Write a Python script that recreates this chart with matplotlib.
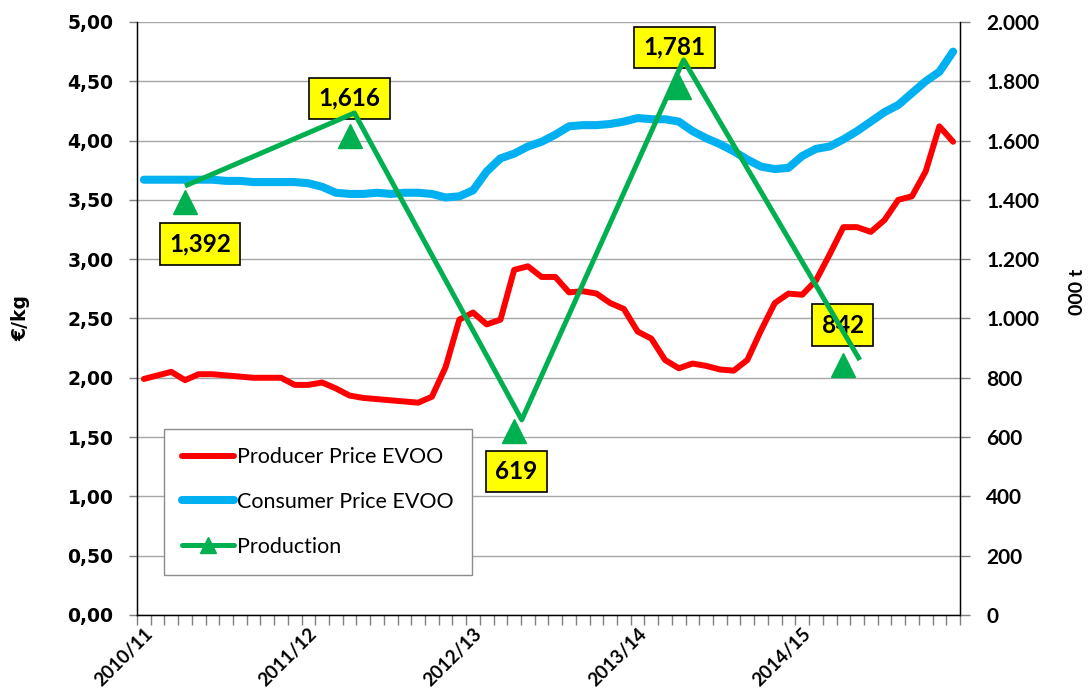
import numpy as np
import matplotlib
matplotlib.use("Agg")
import matplotlib.pyplot as plt
from matplotlib.lines import Line2D
from matplotlib.ticker import FuncFormatter, MultipleLocator

# =========================
# Data
# =========================
season_labels = ["2010/11", "2011/12", "2012/13", "2013/14", "2014/15"]
season_start = [0, 12, 24, 36, 48]          # month index where each season starts
n_months = 60

producer_price = [
    1.99, 2.02, 2.05, 1.98, 2.03, 2.03, 2.02, 2.01, 2.00, 2.00,
    2.00, 1.94, 1.94, 1.96, 1.91, 1.85, 1.83, 1.82, 1.81, 1.80,
    1.79, 1.84, 2.09, 2.49, 2.55, 2.45, 2.49, 2.91, 2.94, 2.85,
    2.85, 2.72, 2.73, 2.71, 2.63, 2.58, 2.39, 2.33, 2.15, 2.08,
    2.12, 2.10, 2.07, 2.06, 2.15, 2.40, 2.63, 2.71, 2.70, 2.82,
    3.04, 3.27, 3.27, 3.23, 3.33, 3.50, 3.53, 3.74, 4.12, 3.99,
]

consumer_price = [
    3.67, 3.67, 3.67, 3.67, 3.67, 3.67, 3.66, 3.66, 3.65, 3.65,
    3.65, 3.65, 3.64, 3.61, 3.56, 3.55, 3.55, 3.56, 3.55, 3.56,
    3.56, 3.55, 3.52, 3.53, 3.58, 3.74, 3.85, 3.89, 3.95, 3.99,
    4.05, 4.12, 4.13, 4.13, 4.14, 4.16, 4.19, 4.18, 4.18, 4.16,
    4.08, 4.02, 3.97, 3.91, 3.84, 3.78, 3.76, 3.77, 3.87, 3.93,
    3.95, 4.01, 4.08, 4.16, 4.24, 4.30, 4.40, 4.50, 4.58, 4.75,
]

# production (000 t), markers
production = [1392, 1616, 619, 1781, 842]
production_month = [3, 15, 27, 39, 51]

# the connecting line in the original is drawn slightly off the markers
production_line_x = [3.0, 15.35, 27.55, 39.35, 52.2]
production_line_y = [1447, 1693, 658, 1872, 860]

# label offsets (points) for the yellow value boxes
label_offsets = [(11, -30), (0, 27), (1.5, -29), (-3, 28.5), (-0.5, 29)]

# =========================
# Style
# =========================
red = "#FF0000"
blue = "#00B0F0"
green = "#00B050"
grid_gray = "#A6A6A6"
tick_gray = "#7F7F7F"

label_font = "Lato"

fig = plt.figure(figsize=(10.89, 6.93), dpi=100)
ax = fig.add_axes([0.1258, 0.1126, 0.7557, 0.8557])
ax2 = ax.twinx()

x = np.arange(n_months)

# price lines (left axis)
ax.plot(x, producer_price, color=red, linewidth=4.3,
        solid_capstyle="round", solid_joinstyle="round", zorder=3)
ax.plot(x, consumer_price, color=blue, linewidth=5.8,
        solid_capstyle="round", solid_joinstyle="round", zorder=3)

ax.set_xlim(-0.5, n_months - 0.5)
ax.set_ylim(0, 5)
ax.yaxis.set_major_locator(MultipleLocator(0.5))
ax.yaxis.set_major_formatter(FuncFormatter(lambda v, p: f"{v:.2f}".replace(".", ",")))
ax.grid(axis="y", color=grid_gray, linewidth=1.0, zorder=0)
ax.set_axisbelow(True)

ax.set_xticks(season_start)
ax.set_xticklabels(season_labels, rotation=45, ha="right", va="top",
                   rotation_mode="anchor", fontfamily=label_font,
                   fontweight="bold", fontsize=13.5)
ax.set_xticks(np.arange(-0.5, n_months, 1), minor=True)
ax.tick_params(axis="x", which="major", length=0, pad=7)
ax.tick_params(axis="x", which="minor", length=7, color=tick_gray, width=1)
ax.tick_params(axis="y", length=6, color=tick_gray, width=1, pad=11)
for t in ax.get_yticklabels():
    t.set_fontweight("bold")
    t.set_fontsize(13.5)
    t.set_fontfamily("DejaVu Sans")

ax.set_ylabel("€/kg", fontweight="bold", fontsize=13.5, fontfamily="DejaVu Sans")
ax.yaxis.set_label_coords(-0.130, 0.5)

for side in ["left", "bottom", "right"]:
    ax.spines[side].set_color("black")
    ax.spines[side].set_linewidth(1.0)
ax.spines["top"].set_visible(False)

# production (right axis)
ax2.set_ylim(0, 2000)
ax2.yaxis.set_major_locator(MultipleLocator(200))
ax2.yaxis.set_major_formatter(FuncFormatter(lambda v, p: f"{int(v):,}".replace(",", ".")))
ax2.tick_params(axis="y", length=7, color=tick_gray, width=1, pad=12)
for t in ax2.get_yticklabels():
    t.set_fontweight("bold")
    t.set_fontsize(15)
    t.set_fontfamily(label_font)
ax2.spines["top"].set_visible(False)
ax2.spines["right"].set_color("black")
ax2.set_ylabel("000 t", fontweight="bold", fontsize=14, fontfamily=label_font, rotation=90)
ax2.yaxis.set_label_coords(1.133, 0.545)

ax2.plot(production_month, production, linestyle="none", marker="^",
         markersize=17, color=green, zorder=3)

for xm, v, off in zip(production_month, production, label_offsets):
    ax2.annotate(f"{v:,}", xy=(xm, v), xytext=off, textcoords="offset points",
                 ha="center", va="center", fontsize=17.5, fontweight="bold",
                 fontfamily=label_font, zorder=4,
                 bbox=dict(boxstyle="square,pad=0.38", fc="#FFFF00",
                           ec="black", lw=1.2))

ax2.plot(production_line_x, production_line_y, color=green, linewidth=3.6,
         solid_capstyle="butt", zorder=5)

# legend
handles = [
    Line2D([], [], color=red, linewidth=4.3, solid_capstyle="round"),
    Line2D([], [], color=blue, linewidth=5.8, solid_capstyle="round"),
    Line2D([], [], color=green, linewidth=3.6, marker="^", markersize=11,
           solid_capstyle="round"),
]
labels = ["Producer Price EVOO", "Consumer Price EVOO", "Production"]
leg = ax2.legend(handles, labels, loc="upper left",
                 bbox_to_anchor=(0.0328, 0.3137), borderaxespad=0,
                 prop={"family": label_font, "size": 15.5},
                 handlelength=2.4, handletextpad=0.15, labelspacing=1.15,
                 borderpad=0.85, fancybox=False, framealpha=1,
                 edgecolor="#8C8C8C")
leg.get_frame().set_linewidth(1.0)
leg.set_zorder(10)

fig.savefig("out.png", dpi=100, facecolor="white")
